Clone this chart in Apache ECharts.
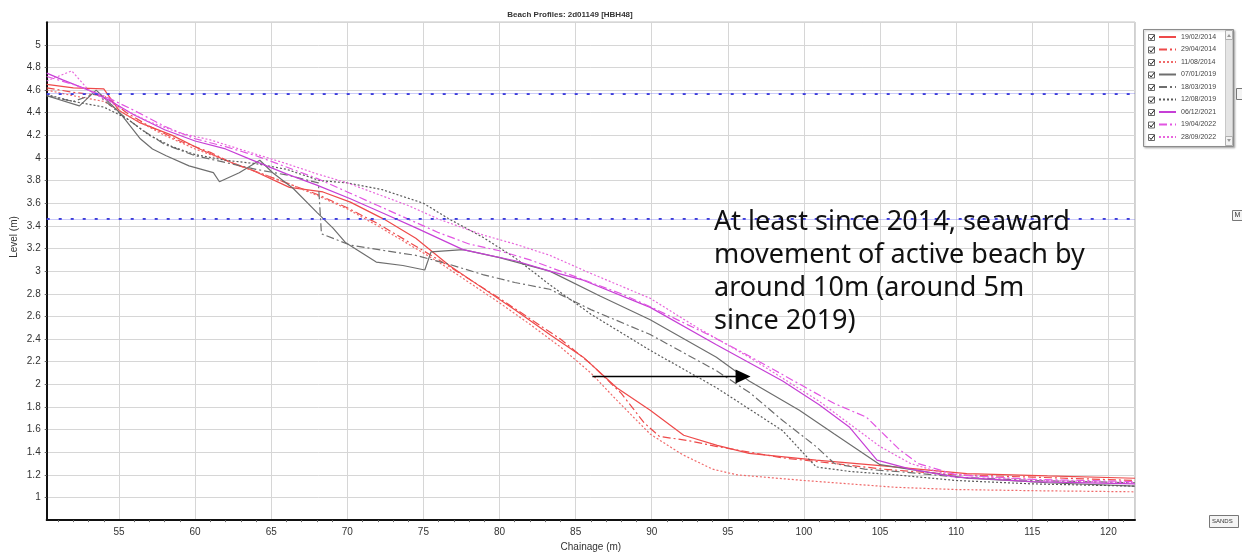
<!DOCTYPE html>
<html>
<head>
<meta charset="utf-8">
<title>Beach Profiles</title>
<script src="https://cdn.jsdelivr.net/npm/echarts@6/dist/echarts.min.js"></script>
<style>
  html, body { margin: 0; padding: 0; background: #ffffff; }
  #chart { width: 1242px; height: 557px; }
</style>
</head>
<body>
<div id="chart"></div>
<script>
// Survey dates shown in the legend
const surveyDates = ['19/02/2014', '29/04/2014', '11/08/2014', '07/01/2019', '18/03/2019',
                     '12/08/2019', '06/12/2021', '19/04/2022', '28/09/2022'];

// Profiles: [chainage (m), level (m)]
const p20140219 = [[50.25,4.65],[52,4.62],[54,4.61],[55,4.42],[56.4,4.31],[58.5,4.2],[60.3,4.08],[62,3.98],[63.8,3.89],[66.2,3.74],[68.4,3.7],[70.2,3.61],[72.4,3.46],[74.5,3.29],[76.7,3.05],[78.9,2.85],[81.1,2.65],[83.3,2.44],[85.5,2.24],[87.7,1.97],[89.9,1.77],[92.1,1.55],[94.3,1.46],[96.4,1.39],[100.8,1.33],[105.2,1.28],[110.7,1.21],[116,1.19],[121.75,1.17]];
const p20140429 = [[50.25,4.62],[52,4.58],[54,4.55],[55.5,4.4],[57,4.28],[59,4.15],[61,4.05],[62.5,3.95],[64,3.88],[66,3.78],[68,3.68],[70,3.56],[72,3.42],[74,3.26],[76,3.1],[78,2.93],[80,2.76],[82,2.58],[84,2.4],[86,2.18],[88,1.92],[89.5,1.66],[90.5,1.54],[92.5,1.5],[94.3,1.45],[98.6,1.35],[102,1.3],[105.2,1.25],[110,1.2],[115,1.18],[121.75,1.15]];
const p20140811 = [[50.25,4.6],[52,4.55],[54,4.5],[55.5,4.38],[58,4.2],[60,4.08],[62,3.98],[64,3.88],[66,3.78],[68,3.67],[70,3.55],[72,3.4],[74,3.24],[76,3.08],[78,2.9],[80,2.72],[82,2.53],[84,2.33],[86,2.1],[87.7,1.86],[89.9,1.56],[92,1.38],[94,1.25],[95.6,1.2],[100,1.15],[106,1.09],[110,1.07],[115,1.06],[121.75,1.05]];
const p20190107 = [[50.25,4.55],[52.4,4.46],[53.5,4.6],[55.05,4.4],[56.4,4.17],[57.2,4.08],[58.1,4.02],[59.6,3.93],[61.2,3.87],[61.6,3.79],[62.9,3.87],[64.25,3.98],[65.1,3.87],[66.45,3.73],[68,3.52],[69.06,3.38],[69.9,3.25],[71.9,3.08],[73.65,3.05],[75.09,3.01],[75.5,3.17],[77.6,3.19],[80,3.12],[83.3,3.0],[86.6,2.78],[89.9,2.57],[94.25,2.24],[96.4,2.03],[99.7,1.77],[102,1.56],[105,1.29],[110.7,1.17],[116,1.13],[121.75,1.1]];
const p20190318 = [[50.25,4.55],[52,4.5],[53.5,4.57],[55,4.4],[56.5,4.25],[58,4.12],[60,4.02],[62,3.96],[64,3.9],[66,3.85],[68.1,3.78],[68.3,3.33],[70.2,3.23],[72.5,3.18],[74.5,3.14],[76.7,3.06],[78.9,2.97],[81,2.9],[83.3,2.84],[86,2.66],[89.9,2.44],[94.25,2.12],[96.5,1.92],[98.6,1.68],[100.8,1.45],[102,1.3],[104,1.25],[107,1.22],[110,1.18],[115,1.15],[121.75,1.13]];
const p20190812 = [[50.25,4.56],[52,4.5],[54,4.45],[55.5,4.35],[57,4.2],[58.5,4.1],[60,4.03],[62,3.98],[64,3.95],[66,3.9],[68.2,3.8],[70,3.78],[72.3,3.72],[75,3.6],[76.7,3.46],[78.9,3.3],[81,3.12],[83.3,2.88],[86,2.62],[89.9,2.3],[94.25,1.97],[98.6,1.59],[100.8,1.27],[103,1.23],[106,1.2],[110,1.15],[115,1.12],[121.75,1.1]];
const p20211206 = [[50.25,4.75],[51.3,4.69],[53,4.6],[54.5,4.5],[56,4.38],[58,4.25],[60,4.15],[62,4.08],[63.6,3.99],[66,3.86],[68,3.76],[70.2,3.64],[72.4,3.51],[74.55,3.38],[77.6,3.19],[81.1,3.09],[83.3,3.0],[85.5,2.92],[89.9,2.68],[94.25,2.35],[98.6,2.03],[101,1.82],[103,1.62],[104.8,1.33],[107,1.25],[110,1.18],[115,1.14],[121.75,1.12]];
const p20220419 = [[50.25,4.72],[52,4.65],[54,4.55],[56,4.42],[58,4.28],[60,4.17],[62,4.1],[64,4.02],[66,3.92],[68,3.82],[70,3.7],[72,3.58],[74,3.46],[76,3.34],[78,3.24],[80,3.18],[82,3.1],[84,3.0],[86,2.9],[88,2.8],[90,2.68],[92,2.55],[94,2.42],[96,2.28],[98,2.13],[100,1.98],[102,1.83],[104.1,1.71],[106.3,1.42],[107.5,1.3],[110,1.2],[115,1.16],[121.75,1.14]];
const p20220928 = [[50.25,4.68],[51.9,4.77],[53,4.6],[55,4.45],[57,4.32],[59,4.22],[61,4.16],[63.6,4.05],[66,3.95],[68,3.86],[70,3.78],[72,3.68],[74,3.58],[76,3.46],[78.9,3.32],[81,3.24],[83.3,3.14],[86,2.98],[89.9,2.76],[93,2.5],[96.4,2.24],[99,2.02],[101,1.85],[103,1.65],[105,1.45],[107,1.3],[109,1.22],[112,1.18],[116,1.15],[121.75,1.13]];

const profiles = [p20140219, p20140429, p20140811, p20190107, p20190318,
                  p20190812, p20211206, p20220419, p20220928];

// Tidal reference levels (m)
const referenceLevels = [4.57, 3.46];

// Shoreline shift arrow, from / to [chainage, level]
const shiftArrow = [[86.1, 2.07], [96.0, 2.07]];

const noteText = 'At least since 2014, seaward\nmovement of active beach by\naround 10m (around 5m\nsince 2019)';

// Line styles per survey
const lineColors = ['#ee4a4a', '#ee4a4a', '#f06a6a', '#6e6e6e', '#6e6e6e',
                    '#5a5a5a', '#c63fd6', '#e255e2', '#e866dc'];
const lineDash = ['solid', [8, 3, 2, 3], [2, 2], 'solid', [8, 3, 2, 3],
                  [2, 2], 'solid', [8, 3, 2, 3], [2, 2]];

const X_MIN = 50.25, X_MAX = 121.75;

const chart = echarts.init(document.getElementById('chart'), null, { renderer: 'canvas' });

const series = profiles.map((pts, i) => ({
  name: surveyDates[i],
  type: 'line',
  data: pts,
  showSymbol: false,
  symbol: 'none',
  silent: true,
  animation: false,
  lineStyle: { color: lineColors[i], width: 1.2, type: lineDash[i] },
  itemStyle: { color: lineColors[i] }
}));

// Horizontal reference levels and the shift arrow
series.push({
  name: 'refs',
  type: 'line',
  data: [],
  silent: true,
  animation: false,
  markLine: {
    silent: true,
    symbol: ['none', 'none'],
    label: { show: false },
    animation: false,
    data: referenceLevels.map(v => ({
      yAxis: v,
      lineStyle: { color: '#3c3cd8', width: 2.2, type: [3, 9] }
    })).concat(referenceLevels.map(v => ({
      yAxis: v,
      lineStyle: { color: 'rgba(110,110,240,0.35)', width: 1, type: 'solid' }
    })))
  }
});
series.push({
  name: 'arrow',
  type: 'line',
  data: [],
  silent: true,
  animation: false,
  markLine: {
    silent: true,
    animation: false,
    symbol: ['none', 'triangle'],
    symbolSize: [14, 15],
    label: { show: false },
    lineStyle: { color: '#000000', width: 1.3, type: 'solid' },
    data: [[{ coord: shiftArrow[0] }, { coord: shiftArrow[1] }]]
  }
});

// Legend frame, check boxes and small side buttons
const legendRow0 = 37, rowStep = 12.5;
const graphics = [
  { type: 'text', x: 570, y: 15, style: { text: 'Beach Profiles: 2d01149 [HBH48]', font: 'bold 8px "Liberation Sans", Arial, sans-serif', fill: '#333', align: 'center', verticalAlign: 'middle' } },
  { type: 'text', x: 14, y: 237, rotation: Math.PI / 2, style: { text: 'Level (m)', font: '10px "Liberation Sans", Arial, sans-serif', fill: '#333', align: 'center', verticalAlign: 'middle' } },
  { type: 'rect', shape: { x: 1143.5, y: 29.5, width: 90, height: 117 }, style: { fill: '#ffffff', stroke: '#8c8c8c', lineWidth: 1, shadowBlur: 2, shadowColor: 'rgba(0,0,0,0.25)', shadowOffsetX: 1, shadowOffsetY: 1 }, z: 0 },
  { type: 'rect', shape: { x: 1225.5, y: 30.5, width: 7, height: 115 }, style: { fill: '#e4e4e4', stroke: '#c8c8c8', lineWidth: 1 }, z: 1 },
  { type: 'rect', shape: { x: 1225.5, y: 30.5, width: 7, height: 9 }, style: { fill: '#f2f2f2', stroke: '#b0b0b0', lineWidth: 1 }, z: 2 },
  { type: 'rect', shape: { x: 1225.5, y: 136.5, width: 7, height: 9 }, style: { fill: '#f2f2f2', stroke: '#b0b0b0', lineWidth: 1 }, z: 2 },
  { type: 'polygon', shape: { points: [[1227, 37], [1229, 34], [1231, 37]] }, style: { fill: '#999' }, z: 3 },
  { type: 'polygon', shape: { points: [[1227, 139], [1229, 142], [1231, 139]] }, style: { fill: '#999' }, z: 3 },
  { type: 'rect', shape: { x: 1236.5, y: 88.5, width: 10, height: 11 }, style: { fill: '#f4f4f4', stroke: '#777', lineWidth: 1 } },
  { type: 'rect', shape: { x: 1232.5, y: 210.5, width: 12, height: 10 }, style: { fill: '#f4f4f4', stroke: '#777', lineWidth: 1 } },
  { type: 'text', x: 1234.5, y: 212, style: { text: 'M', font: '7px "Liberation Sans", Arial, sans-serif', fill: '#333' } },
  { type: 'rect', shape: { x: 1209.5, y: 515.5, width: 29, height: 12 }, style: { fill: '#f4f4f4', stroke: '#777', lineWidth: 1 } },
  { type: 'text', x: 1212, y: 518, style: { text: 'SANDS', font: '6px "Liberation Sans", Arial, sans-serif', fill: '#333' } },
  { type: 'text', left: 714, top: 206, style: { text: noteText, font: '27px "Noto Sans", sans-serif', fill: '#111', lineHeight: 33 }, z: 10 }
];
surveyDates.forEach((d, i) => {
  const y = legendRow0 + i * rowStep;
  graphics.push({ type: 'rect', shape: { x: 1148.5, y: y - 2.5, width: 6, height: 6 }, style: { fill: '#fff', stroke: '#666', lineWidth: 1 }, z: 3 });
  graphics.push({ type: 'polyline', shape: { points: [[1149.5, y + 0.5], [1151, y + 2.5], [1154.5, y - 2]] }, style: { stroke: '#222', lineWidth: 1, fill: null }, z: 4 });
});

const option = {
  animation: false,
  backgroundColor: '#ffffff',
  grid: { left: 46.7, right: 107, top: 22.2, bottom: 33, show: true, borderColor: '#a0a0a0', borderWidth: 1, containLabel: false },
  legend: {
    data: surveyDates,
    orient: 'vertical',
    left: 1143,
    top: legendRow0 - 4,
    padding: [0, 0, 0, 15],
    itemWidth: 17,
    itemHeight: 8,
    itemGap: 4.5,
    selectedMode: false,
    itemStyle: { opacity: 0 },
    textStyle: { fontSize: 7, lineHeight: 8, color: '#444', fontFamily: '"Liberation Sans", Arial, sans-serif' }
  },
  xAxis: {
    type: 'value',
    min: X_MIN,
    max: X_MAX,
    splitNumber: 14,
    name: 'Chainage (m)',
    nameLocation: 'middle',
    nameGap: 20,
    nameTextStyle: { fontSize: 10, color: '#333', fontFamily: '"Liberation Sans", Arial, sans-serif' },
    axisLine: { show: true, onZero: false, lineStyle: { color: '#111', width: 2 } },
    axisTick: { show: false },
    minorTick: { show: true, splitNumber: 5, length: 2, lineStyle: { color: '#666' } },
    axisLabel: { showMinLabel: false, showMaxLabel: false, fontSize: 10, color: '#333', margin: 7, fontFamily: '"Liberation Sans", Arial, sans-serif' },
    splitLine: { show: true, lineStyle: { color: '#d6d6d6', width: 1 } }
  },
  yAxis: {
    type: 'value',
    min: 0.8,
    max: 5.2,
    interval: 0.2,
    axisLine: { show: true, onZero: false, lineStyle: { color: '#111', width: 2 } },
    axisTick: { show: true, length: 2, lineStyle: { color: '#666' } },
    axisLabel: { showMinLabel: false, showMaxLabel: false, fontSize: 10, color: '#333', margin: 6,
                 fontFamily: '"Liberation Sans", Arial, sans-serif',
                 formatter: v => String(Math.round(v * 10) / 10) },
    splitLine: { show: true, lineStyle: { color: '#d6d6d6', width: 1 } }
  },
  graphic: graphics,
  series: series
};

chart.setOption(option);
</script>
</body>
</html>
